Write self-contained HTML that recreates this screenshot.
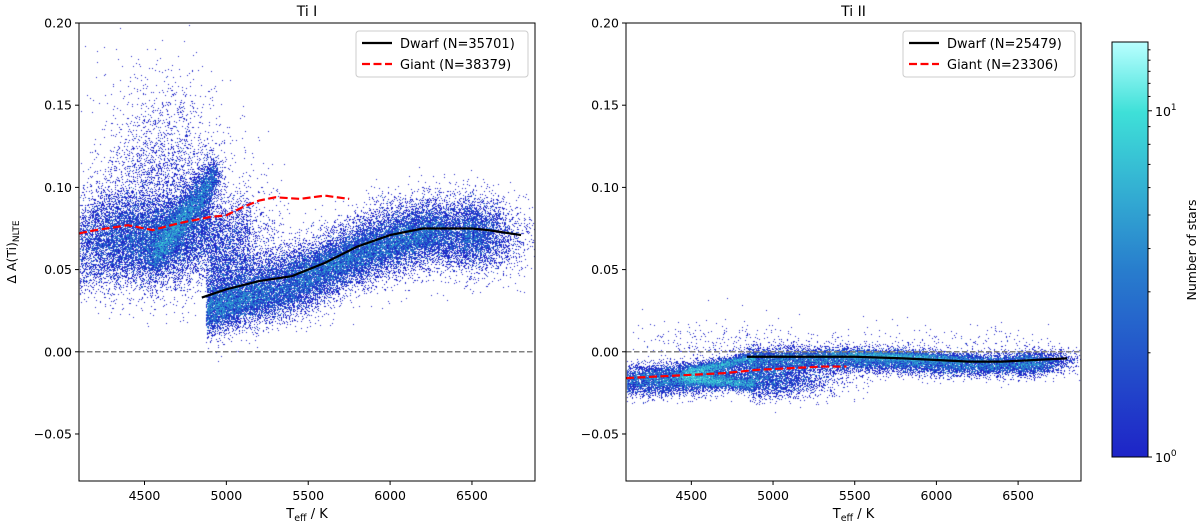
<!DOCTYPE html>
<html><head><meta charset="utf-8"><style>
html,body{margin:0;padding:0;background:#fff;width:1200px;height:529px;overflow:hidden}
#wrap{position:relative;width:1200px;height:529px}
canvas,svg{position:absolute;left:0;top:0}
text{font-family:"DejaVu Sans","Liberation Sans",sans-serif;fill:#000}
</style></head><body>
<div id="wrap">
<canvas id="cv" width="1200" height="529"></canvas>
<svg id="sv" width="1200" height="529"></svg>
</div>
<script>
// ---- data ----
const xDomain = [4100, 6885];
const yDomain = [-0.0786, 0.2];
const xTicks = [4500, 5000, 5500, 6000, 6500];
const yTicks = [-0.05, 0.00, 0.05, 0.10, 0.15, 0.20];
const yTickLabels = ["\u22120.05", "0.00", "0.05", "0.10", "0.15", "0.20"];
const panelTitles = ["Ti I", "Ti II"];

const tiIDwarfTeff = [4850,5000,5200,5400,5600,5800,6000,6200,6400,6500,6600,6800];
const tiIDwarfVal  = [0.033,0.038,0.043,0.046,0.054,0.064,0.071,0.075,0.075,0.075,0.074,0.071];
const tiIGiantTeff = [4100,4200,4400,4500,4550,4700,4900,5000,5100,5200,5300,5450,5600,5750];
const tiIGiantVal  = [0.072,0.074,0.077,0.075,0.074,0.078,0.082,0.083,0.088,0.092,0.094,0.093,0.095,0.093];
const tiIIDwarfTeff = [4840,5000,5500,5800,6000,6200,6400,6600,6800];
const tiIIDwarfVal  = [-0.003,-0.003,-0.003,-0.004,-0.005,-0.006,-0.006,-0.005,-0.004];
const tiIIGiantTeff = [4100,4300,4500,4700,4900,5100,5300,5450];
const tiIIGiantVal  = [-0.016,-0.015,-0.014,-0.013,-0.011,-0.010,-0.009,-0.009];
const legendLabels = [["Dwarf (N=35701)","Giant (N=38379)"],["Dwarf (N=25479)","Giant (N=23306)"]];
const cbarTicks = [1, 10];
const cbarMax = 15.8;

// ---- layout ----
const panels = [
  {x0:79, x1:535, y0:23, y1:481},
  {x0:626, x1:1081, y0:23, y1:481}
];
const cb = {x0:1112, x1:1148, y0:42, y1:457};
const NS = "http://www.w3.org/2000/svg";
const svg = document.getElementById('sv');
function mk(tag, attrs, parent){
  const e = document.createElementNS(NS, tag);
  for (const k in attrs) e.setAttribute(k, attrs[k]);
  (parent||svg).appendChild(e); return e;
}
function xs(p, v){ return p.x0 + (v - xDomain[0]) / (xDomain[1]-xDomain[0]) * (p.x1-p.x0); }
function ys(p, v){ return p.y1 - (v - yDomain[0]) / (yDomain[1]-yDomain[0]) * (p.y1-p.y0); }
function interp(T, V, t){
  if (t<=T[0]) return V[0];
  for (let i=1;i<T.length;i++) if (t<=T[i]) return V[i-1]+(V[i]-V[i-1])*(t-T[i-1])/(T[i]-T[i-1]);
  return V[V.length-1];
}

// ---- scatter density texture around the curves ----
let seed = 12345;
function rnd(){ seed|=0; seed=seed+0x6D2B79F5|0; let t=Math.imul(seed^seed>>>15,1|seed); t=t+Math.imul(t^t>>>7,61|t)^t; return ((t^t>>>14)>>>0)/4294967296; }
function gau(){ return Math.sqrt(-2*Math.log(rnd()+1e-9))*Math.cos(2*Math.PI*rnd()); }
const W=1200,H=529; const counts = new Float32Array(W*H);
function add(p, t, y){
  const px=Math.floor(xs(p,t)), py=Math.floor(ys(p,y));
  if (px<=p.x0||px>=p.x1||py<=p.y0||py>=p.y1) return;
  counts[py*W+px]+=1;
}
function dwarfT(lo, hi, tailS){ // sharp low edge, soft high edge
  if (rnd()<0.85) return lo+rnd()*(hi-lo);
  return hi+Math.abs(gau())*tailS;
}
const P0=panels[0], P1=panels[1];
// Ti I giants
for (let i=0;i<16000;i++){ let t=4550+gau()*330; if(t>5150) t=5150-Math.abs(gau())*200+rnd()*250; const y=interp(tiIGiantTeff,tiIGiantVal,t)-0.006-(t>4900?0.012:0)+gau()*0.015; add(P0,t,y); }
for (let i=0;i<5000;i++){ const f=rnd(); const t=4560+f*380+gau()*25; add(P0,t,0.058+f*0.05+gau()*0.006); }
for (let i=0;i<1500;i++){ const t=4620+gau()*190; add(P0,t,0.10+Math.abs(gau())*0.032); }
// Ti I dwarfs
for (let i=0;i<20000;i++){ const t=dwarfT(4880,6450,150); add(P0,t,interp(tiIDwarfTeff,tiIDwarfVal,t)-0.003+gau()*0.011); }
for (let i=0;i<4000;i++){ const t=4880+Math.abs(gau())*350; add(P0,t,interp(tiIDwarfTeff,tiIDwarfVal,t)-0.011+gau()*0.006); }
for (let i=0;i<5000;i++){ const f=rnd(); const t=5400+f*900+gau()*40; add(P0,t,0.045+f*0.03+gau()*0.006); }
for (let i=0;i<200;i++){ const t=6450+rnd()*430; add(P0,t,0.072+gau()*0.01); }
// Ti II giants
for (let i=0;i<8000;i++){ let t=4400+gau()*300; if(t>5450) continue; add(P1,t,interp(tiIIGiantTeff,tiIIGiantVal,t)-0.002+gau()*0.0045); }
for (let i=0;i<2500;i++){ const f=rnd(); const t=4450+f*420+gau()*20; add(P1,t,-0.013+f*0.009+gau()*0.0018); }
for (let i=0;i<2500;i++){ const f=rnd(); const t=4450+f*420+gau()*20; add(P1,t,-0.016-f*0.004+gau()*0.002); }
for (let i=0;i<2200;i++){ const t=4850+Math.abs(gau())*250; add(P1,t,-0.018+gau()*0.005); }
for (let i=0;i<250;i++){ const t=4650+gau()*250; add(P1,t,0.0+Math.abs(gau())*0.01); }
// Ti II dwarfs
for (let i=0;i<13000;i++){ const t=dwarfT(4850,6500,160); add(P1,t,interp(tiIIDwarfTeff,tiIIDwarfVal,t)-0.002+gau()*0.0036); }
for (let i=0;i<3500;i++){ const t=5750+gau()*300; add(P1,t,interp(tiIIDwarfTeff,tiIIDwarfVal,t)+0.001+gau()*0.0016); }
for (let i=0;i<200;i++){ const t=5000+rnd()*1700; add(P1,t,0.002+Math.abs(gau())*0.007); }

const stops=[[0,[30,36,200]],[0.45,[40,125,205]],[0.83,[62,224,216]],[1,[185,255,255]]];
function cmap(t){
  t=Math.max(0,Math.min(1,t));
  for(let i=1;i<stops.length;i++) if(t<=stops[i][0]){
    const a=stops[i-1],b=stops[i],f=(t-a[0])/(b[0]-a[0]);
    return a[1].map((c,k)=>Math.round(c+(b[1][k]-c)*f));
  }
  return stops[stops.length-1][1];
}
const cv=document.getElementById('cv'), ctx=cv.getContext('2d');
const img=ctx.createImageData(W,H);
for(let i=0;i<W*H;i++){
  const c=counts[i]; let r=255,g=255,b=255;
  if(c>0){ const col=cmap(Math.log10(c)/Math.log10(cbarMax)); r=col[0];g=col[1];b=col[2]; }
  img.data[i*4]=r;img.data[i*4+1]=g;img.data[i*4+2]=b;img.data[i*4+3]=255;
}
ctx.putImageData(img,0,0);

// ---- axes, curves, legends ----
const series = [
  {dT:tiIDwarfTeff,dV:tiIDwarfVal,gT:tiIGiantTeff,gV:tiIGiantVal},
  {dT:tiIIDwarfTeff,dV:tiIIDwarfVal,gT:tiIIGiantTeff,gV:tiIIGiantVal}
];
panels.forEach((p,pi)=>{
  const g=mk('g',{});
  
  
  const zl=mk('line',{x1:p.x0,x2:p.x1,y1:ys(p,0),y2:ys(p,0),stroke:'#808080','stroke-width':1.5,'stroke-dasharray':'5.5,2.5'},g);
  
  
  const s=series[pi];
  const dp=mk('polyline',{points:s.dT.map((t,i)=>xs(p,t)+','+ys(p,s.dV[i])).join(' '),fill:'none',stroke:'#000','stroke-width':2.2},g);
  
  
  const gp=mk('polyline',{points:s.gT.map((t,i)=>xs(p,t)+','+ys(p,s.gV[i])).join(' '),fill:'none',stroke:'#ff0000','stroke-width':2.2,'stroke-dasharray':'8,3.5'},g);
  
  
  const fr=mk('rect',{x:p.x0,y:p.y0,width:p.x1-p.x0,height:p.y1-p.y0,fill:'none',stroke:'#000','stroke-width':1},g);
  
  
  xTicks.forEach(t=>{
    const x=xs(p,t);
    mk('line',{x1:x,x2:x,y1:p.y1,y2:p.y1+4,stroke:'#000'},g);
    const tx=mk('text',{x:x,y:p.y1+19,'text-anchor':'middle','font-size':12.5},g);
    tx.textContent=t;
    
    
  });
  yTicks.forEach((v,i)=>{
    const y=ys(p,v);
    mk('line',{x1:p.x0-4,x2:p.x0,y1:y,y2:y,stroke:'#000'},g);
    const tx=mk('text',{x:p.x0-7,y:y+4.5,'text-anchor':'end','font-size':12.5},g);
    tx.textContent=yTickLabels[i];
    
    
  });
  const ti=mk('text',{x:(p.x0+p.x1)/2,y:16,'text-anchor':'middle','font-size':14},g);
  ti.textContent=panelTitles[pi];
  
  
  const xl=mk('text',{x:(p.x0+p.x1)/2,y:518,'text-anchor':'middle','font-size':13},g);
  xl.innerHTML='T<tspan font-size="9.5" dy="3">eff</tspan><tspan dy="-3"> / K</tspan>';
  
  
  const lx = pi===0?356:903, lw = 172;
  const lg=mk('g',{},g);
  
  
  mk('rect',{x:lx,y:31,width:lw,height:46,rx:3,fill:'#fff','fill-opacity':0.85,stroke:'#ccc'},lg);
  mk('line',{x1:lx+6,x2:lx+36,y1:43,y2:43,stroke:'#000','stroke-width':2.2},lg);
  mk('line',{x1:lx+6,x2:lx+36,y1:64,y2:64,stroke:'#f00','stroke-width':2.2,'stroke-dasharray':'8,3.5'},lg);
  const l1=mk('text',{x:lx+44,y:48,'font-size':13},lg); l1.textContent=legendLabels[pi][0];
  
  
  const l2=mk('text',{x:lx+44,y:69,'font-size':13},lg); l2.textContent=legendLabels[pi][1];
  
  
});
const yl=mk('text',{transform:'translate(16,252) rotate(-90)','text-anchor':'middle','font-size':12.5});
yl.innerHTML='\u0394 A(Ti)<tspan font-size="9" dy="3">NLTE</tspan>';



// ---- colorbar ----
const defs=mk('defs',{});
const grad=mk('linearGradient',{id:'cg',x1:0,y1:1,x2:0,y2:0},defs);
stops.forEach(s=>mk('stop',{offset:s[0],'stop-color':'rgb('+s[1].join(',')+')'},grad));
const cbg=mk('g',{});


mk('rect',{x:cb.x0,y:cb.y0,width:cb.x1-cb.x0,height:cb.y1-cb.y0,fill:'url(#cg)',stroke:'#000','stroke-width':1},cbg);
function cby(v){ return cb.y1-Math.log10(v)/Math.log10(cbarMax)*(cb.y1-cb.y0); }
[2,3,4,5,6,7,8,9,11,12,13,14,15].forEach(v=>{ if(v<=cbarMax){ const y=cby(v); mk('line',{x1:cb.x1,x2:cb.x1+2.5,y1:y,y2:y,stroke:'#000'},cbg);} });
cbarTicks.forEach((v,i)=>{
  const y=cby(v);
  mk('line',{x1:cb.x1,x2:cb.x1+4,y1:y,y2:y,stroke:'#000'},cbg);
  const t=mk('text',{x:cb.x1+7,y:y+5,'font-size':12.5},cbg);
  t.innerHTML='10<tspan font-size="9" dy="-6">'+i+'</tspan>';
  
  
});
const cl=mk('text',{transform:'translate(1196,250) rotate(-90)','text-anchor':'middle','font-size':12.5},cbg);
cl.textContent='Number of stars';


</script>
</body></html>
